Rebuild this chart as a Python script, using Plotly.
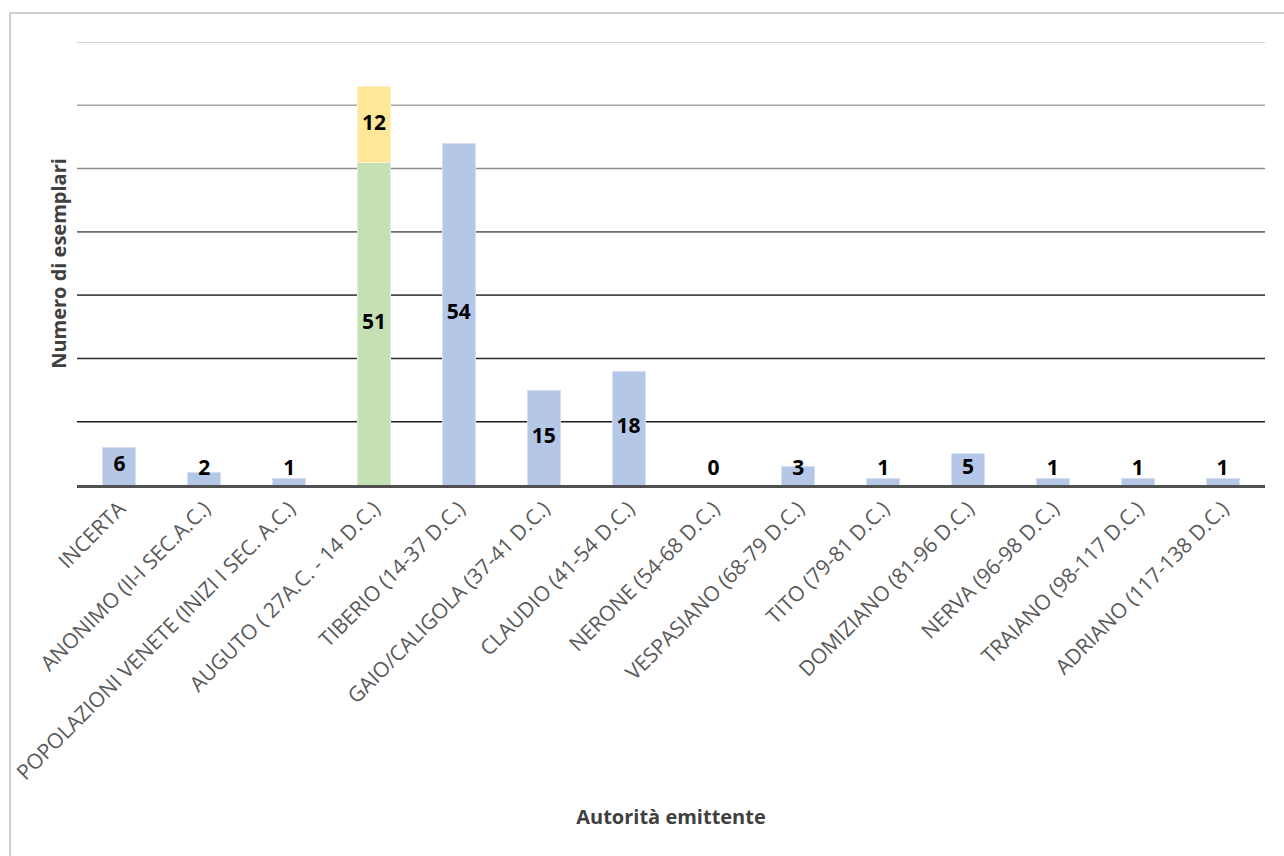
import plotly.graph_objects as go

categories = [
    "INCERTA",
    "ANONIMO (II-I SEC.A.C.)",
    "POPOLAZIONI VENETE (INIZI I SEC. A.C.)",
    "AUGUTO ( 27A.C. - 14 D.C.)",
    "TIBERIO (14-37 D.C.)",
    "GAIO/CALIGOLA (37-41 D.C.)",
    "CLAUDIO (41-54 D.C.)",
    "NERONE (54-68 D.C.)",
    "VESPASIANO (68-79 D.C.)",
    "TITO (79-81 D.C.)",
    "DOMIZIANO (81-96 D.C.)",
    "NERVA (96-98 D.C.)",
    "TRAIANO (98-117 D.C.)",
    "ADRIANO (117-138 D.C.)",
]
blue_values = [6, 2, 1, None, 54, 15, 18, 0, 3, 1, 5, 1, 1, 1]
green_values = [None, None, None, 51, None, None, None, None, None, None, None, None, None, None]
yellow_values = [None, None, None, 12, None, None, None, None, None, None, None, None, None, None]
grid_values = [10, 20, 30, 40, 50, 60, 70]
grid_colors = ["#1a1a1a", "#2e2e2e", "#4a4a4a", "#6e6e6e", "#8c8c8c", "#a4a4a4", "#c4c4c4"]

FONT = "'Open Sans', Lato, sans-serif"
MIN_LABEL_Y = 2.45

fig = go.Figure()
fig.add_trace(go.Bar(x=categories, y=blue_values, marker=dict(color="#B4C7E7", line=dict(color="#D6E0F2", width=1)), showlegend=False))
fig.add_trace(go.Bar(x=categories, y=green_values, marker=dict(color="#C5E0B4", line=dict(color="#E0EFD6", width=1)), showlegend=False))
fig.add_trace(go.Bar(x=categories, y=yellow_values, marker=dict(color="#FFE699", line=dict(color="#FFF2CC", width=1)), showlegend=False))

# data labels
lx, ly, lt = [], [], []
for c, b, g, yv in zip(categories, blue_values, green_values, yellow_values):
    if b is not None:
        lx.append(c); ly.append(max(b / 2, MIN_LABEL_Y)); lt.append(str(b))
    if g is not None:
        lx.append(c); ly.append(g / 2); lt.append(str(g))
        if yv is not None:
            lx.append(c); ly.append(g + yv / 2); lt.append(str(yv))
fig.add_trace(go.Scatter(x=lx, y=ly, text=lt, mode="text", showlegend=False,
                         textfont=dict(family=FONT, size=21, color="#000000", weight="bold"),
                         hoverinfo="skip"))

for v, col in zip(grid_values, grid_colors):
    fig.add_shape(type="line", xref="paper", yref="y", x0=0, x1=1, y0=v, y1=v,
                  line=dict(color=col, width=1.6), layer="below")

# outer frame
fig.add_shape(type="rect", xref="paper", yref="paper", x0=-0.0564, x1=1.03, y0=-0.9, y1=1.0655,
              line=dict(color="#D0D0D0", width=2), layer="below")

fig.update_layout(
    width=1284, height=856,
    margin=dict(l=77, r=19, t=42, b=371),
    paper_bgcolor="white", plot_bgcolor="white",
    barmode="stack", bargap=0.61,
    font=dict(family=FONT, color="#595959"),
    xaxis=dict(
        range=[-0.5, len(categories) - 0.5],
        tickangle=-45, tickfont=dict(size=21, color="#595959", family=FONT),
        showgrid=False, showline=True, linecolor="#505050", linewidth=3,
        ticks="", zeroline=False,
        title=dict(text="Autorità emittente", font=dict(size=20, color="#404040", family=FONT, weight="bold"), standoff=26),
        automargin=False,
    ),
    yaxis=dict(
        range=[0, 70], showgrid=False, showticklabels=False, ticks="", zeroline=False,
        title=dict(text="Numero di esemplari", font=dict(size=20, color="#404040", family=FONT, weight="bold"), standoff=4),
        automargin=False,
    ),
)

fig.write_html("out.html")
